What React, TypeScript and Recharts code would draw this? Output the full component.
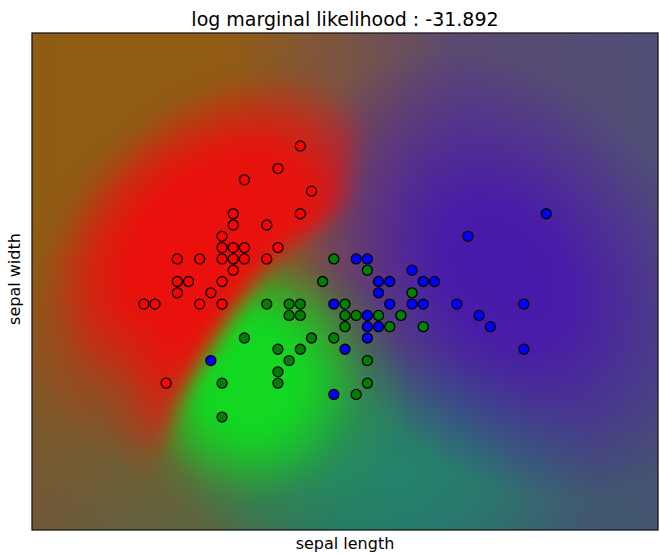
import React from 'react';
import { ReferenceArea, Scatter, ScatterChart, XAxis, YAxis } from 'recharts';

// axis ranges (feature min - 1 .. max + 1)
const X_DOMAIN: [number, number] = [3.3, 8.9];
const Y_DOMAIN: [number, number] = [1.0, 5.4];

// sepal length / sepal width of the plotted samples, one list per class
const setosa: [number, number][] = [
  [5.7, 4.4], [5.5, 4.2], [5.2, 4.1], [5.8, 4.0], [5.1, 3.8], [5.7, 3.8], [5.1, 3.7], [5.4, 3.7],
  [5.0, 3.6], [5.0, 3.5], [5.1, 3.5], [5.2, 3.5], [5.5, 3.5], [4.6, 3.4], [4.8, 3.4], [5.0, 3.4],
  [5.1, 3.4], [5.2, 3.4], [5.4, 3.4], [5.1, 3.3], [4.6, 3.2], [4.7, 3.2], [5.0, 3.2], [4.6, 3.1],
  [4.9, 3.1], [4.3, 3.0], [4.4, 3.0], [4.8, 3.0], [5.0, 3.0], [4.5, 2.3],
];

const versicolor: [number, number][] = [
  [5.9, 3.2], [6.0, 3.4], [6.3, 3.3], [6.7, 3.1], [5.4, 3.0], [5.6, 3.0], [5.7, 3.0], [6.1, 3.0],
  [5.6, 2.9], [5.7, 2.9], [6.1, 2.9], [6.2, 2.9], [6.4, 2.9], [6.6, 2.9], [6.1, 2.8], [6.5, 2.8],
  [6.8, 2.8], [5.2, 2.7], [5.8, 2.7], [6.0, 2.7], [5.5, 2.6], [5.7, 2.6], [5.6, 2.5], [6.3, 2.5],
  [5.5, 2.4], [5.0, 2.3], [5.5, 2.3], [6.3, 2.3], [6.2, 2.2], [5.0, 2.0],
];

const virginica: [number, number][] = [
  [7.9, 3.8], [7.2, 3.6], [6.2, 3.4], [6.3, 3.4], [6.7, 3.3], [6.4, 3.2], [6.5, 3.2], [6.8, 3.2],
  [6.9, 3.2], [6.4, 3.1], [6.0, 3.0], [6.5, 3.0], [6.7, 3.0], [6.8, 3.0], [7.1, 3.0], [7.7, 3.0],
  [6.3, 2.9], [7.3, 2.9], [6.3, 2.8], [6.4, 2.8], [7.4, 2.8], [6.3, 2.7], [6.1, 2.6], [7.7, 2.6],
  [4.9, 2.5], [6.0, 2.2],
];

// rough red / green split of the probability field (data units), used only for shading
const SPLIT_EDGE: [number, number][] = [
  [6.41, 6.6], [6.32, 5.16], [6.22, 4.45], [6.1, 3.88], [5.86, 3.67], [5.61, 3.52], [5.41, 3.35],
  [5.25, 3.13], [5.12, 2.95], [4.94, 2.68], [4.78, 2.42], [4.62, 2.13], [4.52, 1.82], [4.43, 1.49],
  [4.31, 0.0],
];

const toPoints = (arr: [number, number][]) => arr.map(([x, y]) => ({ x, y }));

const FONT = '"DejaVu Sans", sans-serif';

const dot = (fill: string) => (p: any) => (
  <circle cx={p.cx} cy={p.cy} r={5} fill={fill} stroke="#000" strokeWidth={1.3} />
);

// radial fade: [offset, opacity] pairs
const Fade = ({ id, color, stops }: { id: string; color: string; stops: [number, number][] }) => (
  <radialGradient id={id}>
    {stops.map(([o, a]) => (
      <stop key={o} offset={o} stopColor={color} stopOpacity={a} />
    ))}
  </radialGradient>
);

// soft RGB field behind the points (class probabilities as colour)
const FieldBackground = (props: any) => {
  const { x, y, width, height } = props;
  const sx = (v: number) => x + ((v - X_DOMAIN[0]) / (X_DOMAIN[1] - X_DOMAIN[0])) * width;
  const sy = (v: number) => y + ((Y_DOMAIN[1] - v) / (Y_DOMAIN[1] - Y_DOMAIN[0])) * height;
  const k = width / 626;

  const edge = SPLIT_EDGE.map(([a, b]) => `${sx(a)},${sy(b)}`);
  const redSide = [...edge, `${sx(1)},${sy(0)}`, `${sx(1)},${sy(6.6)}`].join(' ');
  const greenSide = [...edge, `${sx(11)},${sy(0)}`, `${sx(11)},${sy(6.6)}`].join(' ');

  const ell = (cx: number, cy: number, rx: number, ry: number, fill: string, rot = 0) => (
    <ellipse
      cx={sx(cx)}
      cy={sy(cy)}
      rx={rx * k}
      ry={ry * k}
      fill={fill}
      transform={`rotate(${rot} ${sx(cx)} ${sy(cy)})`}
    />
  );

  return (
    <g>
      <defs>
        <clipPath id="plotClip">
          <rect x={x} y={y} width={width} height={height} />
        </clipPath>
        <clipPath id="redSide">
          <polygon points={redSide} />
        </clipPath>
        <clipPath id="greenSide">
          <polygon points={greenSide} />
        </clipPath>
        <filter
          id="blurEdge"
          filterUnits="userSpaceOnUse"
          x={x - 60}
          y={y - 60}
          width={width + 120}
          height={height + 120}
          colorInterpolationFilters="sRGB"
        >
          <feGaussianBlur stdDeviation={10} />
        </filter>
        <linearGradient id="topGrad" x1="0" y1="0" x2="1" y2="0">
          <stop offset="0" stopColor="#8f5c16" />
          <stop offset="0.32" stopColor="#925c16" />
          <stop offset="0.5" stopColor="#7a5444" />
          <stop offset="0.68" stopColor="#5a4a72" />
          <stop offset="1" stopColor="#504e76" />
        </linearGradient>
        <linearGradient id="bottomGrad" x1="0" y1="0" x2="1" y2="0">
          <stop offset="0" stopColor="#70583a" />
          <stop offset="0.28" stopColor="#5a6642" />
          <stop offset="0.5" stopColor="#2c7058" />
          <stop offset="0.64" stopColor="#2e6670" />
          <stop offset="0.82" stopColor="#3e5a70" />
          <stop offset="1" stopColor="#425670" />
        </linearGradient>
        <linearGradient id="fadeDown" x1="0" y1="0" x2="0" y2="1">
          <stop offset="0.45" stopColor="#fff" stopOpacity={0} />
          <stop offset="1" stopColor="#fff" stopOpacity={1} />
        </linearGradient>
        <mask id="bottomMask">
          <rect x={x} y={y} width={width} height={height} fill="url(#fadeDown)" />
        </mask>
        <Fade id="gPurple" color="#4816ae" stops={[[0, 0.95], [0.3, 0.9], [0.65, 0.45], [1, 0]]} />
        <Fade id="gTeal" color="#208a6c" stops={[[0, 0.85], [0.5, 0.55], [1, 0]]} />
        <Fade id="gGreenBroad" color="#1ab830" stops={[[0, 0.6], [0.5, 0.4], [1, 0]]} />
        <Fade id="gGreenCore" color="#12d822" stops={[[0, 1], [0.45, 1], [1, 0]]} />
        <Fade id="gRedHalo" color="#e8140c" stops={[[0, 0.55], [0.5, 0.35], [1, 0]]} />
        <Fade id="gRed1" color="#f00c0c" stops={[[0, 0.95], [0.55, 0.9], [0.85, 0.35], [1, 0]]} />
        <Fade id="gRed2" color="#ee0e0c" stops={[[0, 0.8], [0.5, 0.65], [1, 0]]} />
      </defs>
      <g clipPath="url(#plotClip)">
        <rect x={x} y={y} width={width} height={height} fill="url(#topGrad)" />
        <rect x={x} y={y} width={width} height={height} fill="url(#bottomGrad)" mask="url(#bottomMask)" />
        {ell(6.5, 1.53, 210, 130, 'url(#gTeal)')}
        {ell(7.53, 3.26, 250, 185, 'url(#gPurple)', 51)}
        {ell(5.35, 2.25, 150, 140, 'url(#gGreenBroad)')}
        <g filter="url(#blurEdge)">
          <g clipPath="url(#redSide)">
            {ell(4.27, 3.13, 110, 170, 'url(#gRedHalo)', 20)}
            {ell(4.98, 3.6, 190, 135, 'url(#gRed1)', -42)}
            {ell(4.76, 2.45, 70, 120, 'url(#gRed2)', 30)}
          </g>
          <g clipPath="url(#greenSide)">{ell(5.25, 2.35, 112, 118, 'url(#gGreenCore)')}</g>
        </g>
      </g>
      <rect x={x} y={y} width={width} height={height} fill="none" stroke="#1a1a1a" strokeWidth={1.3} />
    </g>
  );
};

const App = () => {
  return (
    <div style={{ position: 'absolute', left: 0, top: 0, width: 660, height: 554, background: '#fff' }}>
      <div
        style={{
          position: 'absolute', left: 32, top: 8, width: 626, textAlign: 'center',
          fontFamily: FONT, fontSize: 19, lineHeight: '22px', color: '#000',
        }}
      >
        log marginal likelihood : -31.892
      </div>
      <ScatterChart width={660} height={554} margin={{ top: 33, right: 2, bottom: 24, left: 32 }}>
        <XAxis type="number" dataKey="x" domain={X_DOMAIN} hide />
        <YAxis type="number" dataKey="y" domain={Y_DOMAIN} hide />
        <ReferenceArea
          x1={X_DOMAIN[0]}
          x2={X_DOMAIN[1]}
          y1={Y_DOMAIN[0]}
          y2={Y_DOMAIN[1]}
          shape={(p: any) => <FieldBackground {...p} />}
        />
        <Scatter data={toPoints(setosa)} shape={dot('#ff0000')} isAnimationActive={false} />
        <Scatter data={toPoints(versicolor)} shape={dot('#008000')} isAnimationActive={false} />
        <Scatter data={toPoints(virginica)} shape={dot('#0000ff')} isAnimationActive={false} />
      </ScatterChart>
      <div
        style={{
          position: 'absolute', left: 32, top: 535, width: 626, textAlign: 'center',
          fontFamily: FONT, fontSize: 16, lineHeight: '18px', color: '#000',
        }}
      >
        sepal length
      </div>
      <div
        style={{
          position: 'absolute', left: -85, top: 270, width: 200, height: 18, textAlign: 'center',
          fontFamily: FONT, fontSize: 16, lineHeight: '18px', color: '#000',
          transform: 'rotate(-90deg)',
        }}
      >
        sepal width
      </div>
    </div>
  );
};

export default App;
